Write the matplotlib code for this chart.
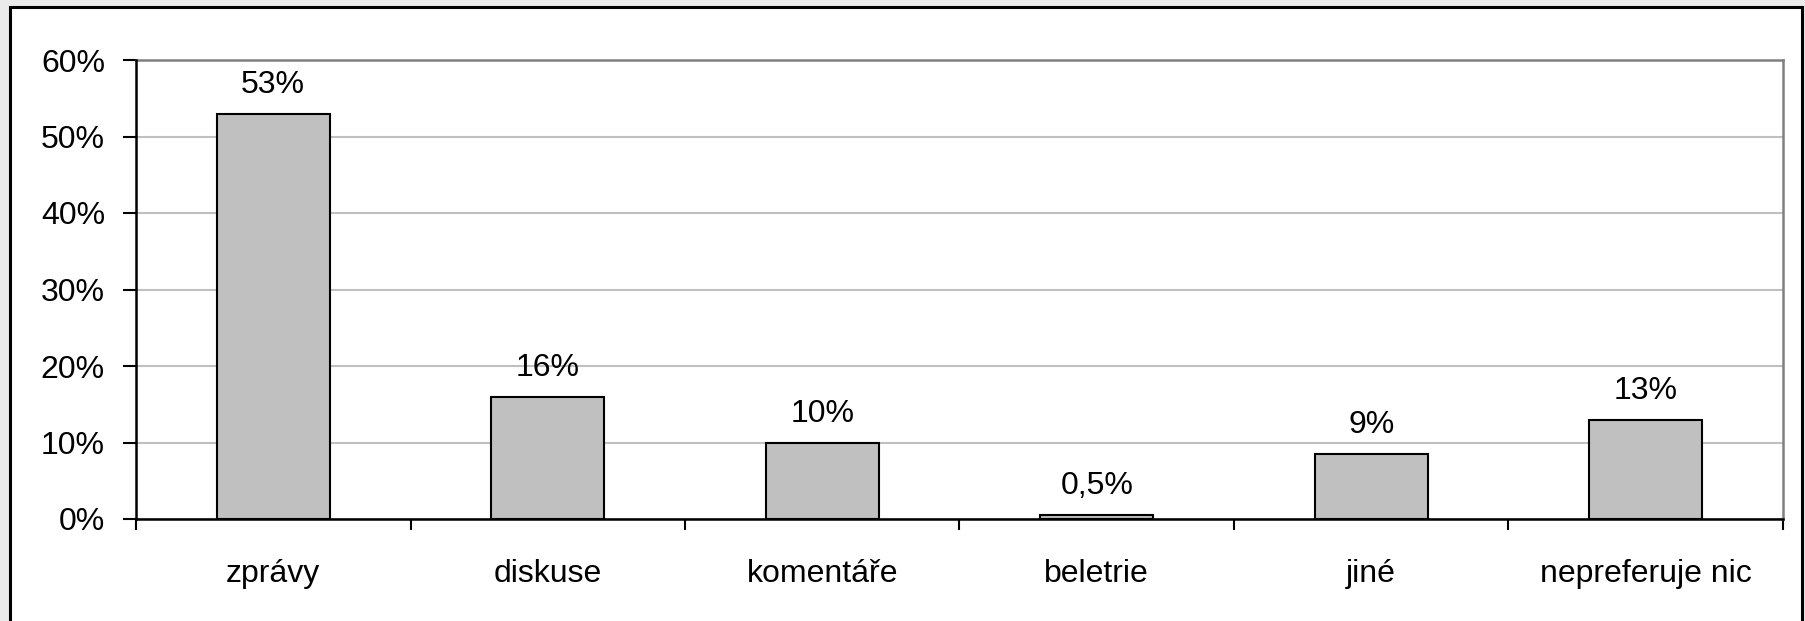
import matplotlib
matplotlib.use('Agg')
import matplotlib.pyplot as plt
from matplotlib.patches import Rectangle
from matplotlib.ticker import FixedLocator

categories = ['zprávy', 'diskuse', 'komentáře', 'beletrie', 'jiné', 'nepreferuje nic']
values = [53, 16, 10, 0.5, 8.5, 13]
value_labels = ['53%', '16%', '10%', '0,5%', '9%', '13%']
y_ticks = [0, 10, 20, 30, 40, 50, 60]

W, H, DPI = 1806, 621, 100
plt.rcParams['font.family'] = ['Liberation Sans', 'DejaVu Sans']
plt.rcParams['font.size'] = 23

fig = plt.figure(figsize=(W / DPI, H / DPI), dpi=DPI, facecolor='#ebebeb')

# white chart area with black frame, behind the axes
fig.patches.append(Rectangle((10 / W, -0.02), (1802 - 10) / W, (H - 7) / H + 0.02,
                             transform=fig.transFigure, facecolor='white',
                             edgecolor='black', linewidth=2.2, zorder=-10))

left, right, top, bottom = 136, 1783, 60, 519
ax = fig.add_axes([left / W, (H - bottom) / H, (right - left) / W, (bottom - top) / H])
ax.set_facecolor('white')

x = list(range(len(categories)))
ax.bar(x, values, width=0.41, color='#c0c0c0', edgecolor='black', linewidth=1.5, zorder=3)

for xi, v, lab in zip(x, values, value_labels):
    ax.annotate(lab, (xi, v), xytext=(0, 15), textcoords='offset points',
                ha='center', va='baseline')

ax.set_xlim(-0.5, len(categories) - 0.5)
ax.set_ylim(0, 60)
ax.set_yticks(y_ticks)
ax.set_yticklabels([f'{t}%' for t in y_ticks])
ax.yaxis.grid(True, color='#c0c0c0', linewidth=1.5, zorder=0)
ax.set_axisbelow(True)

ax.set_xticks(x)
ax.set_xticklabels(categories)
ax.xaxis.set_minor_locator(FixedLocator([i - 0.5 for i in range(len(categories) + 1)]))
ax.tick_params(axis='x', which='major', length=0, pad=29)
ax.tick_params(axis='x', which='minor', length=8, width=1.5, direction='out')
ax.tick_params(axis='y', length=9.4, width=1.5, direction='out', pad=13)

for s in ('left', 'bottom'):
    ax.spines[s].set_color('black')
    ax.spines[s].set_linewidth(1.8)
    ax.spines[s].set_zorder(4)
for s in ('top', 'right'):
    ax.spines[s].set_color('#808080')
    ax.spines[s].set_linewidth(1.8)

fig.savefig('out.png', dpi=DPI, facecolor=fig.get_facecolor())
